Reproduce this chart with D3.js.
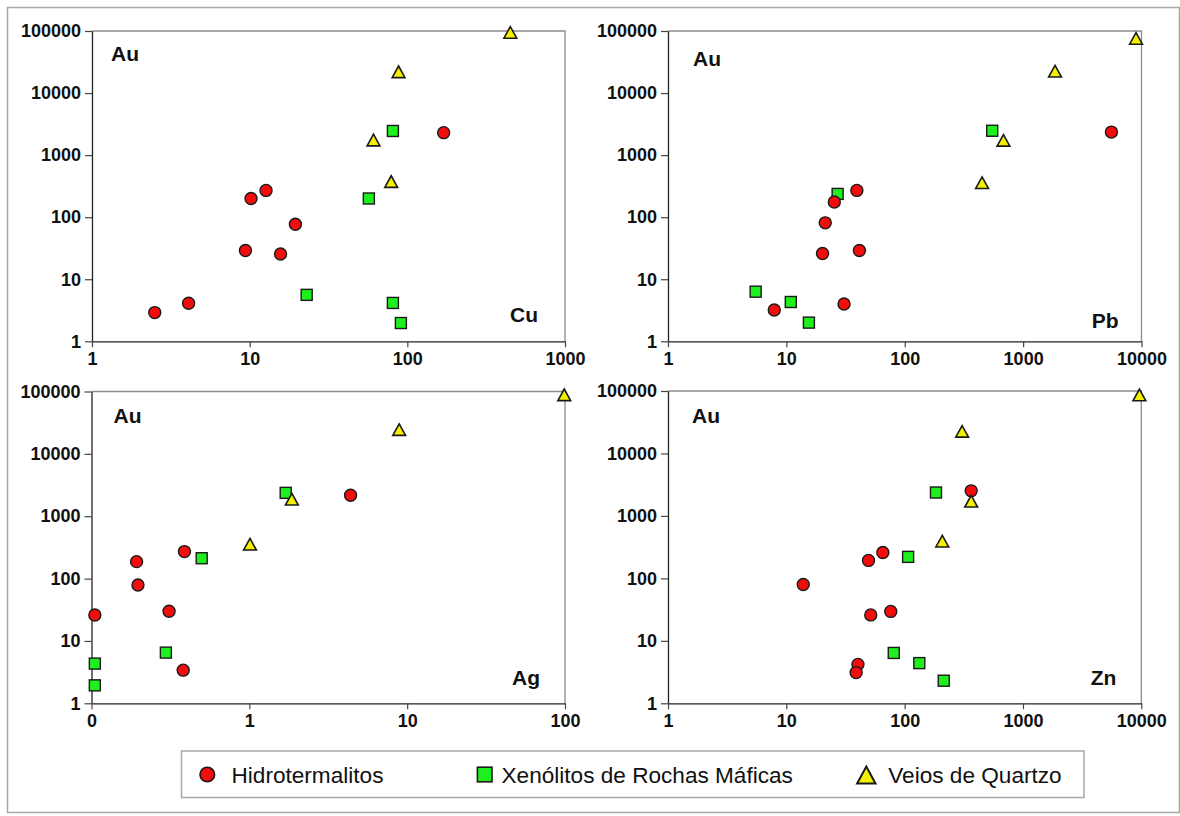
<!DOCTYPE html>
<html>
<head>
<meta charset="utf-8">
<script src="https://cdn.jsdelivr.net/npm/d3@7"></script>
<style>
  html, body { margin: 0; padding: 0; background: #fff; }
  svg { display: block; }
  text { font-family: Arial, "Liberation Sans", Helvetica, sans-serif; }
</style>
</head>
<body>
<svg id="chart" width="1180" height="816"></svg>
<script>
// ---- Data: Au (ppb) against Cu, Pb, Ag and Zn for each rock group ----
const groups = ["Hidrotermalitos", "Xenólitos de Rochas Máficas", "Veios de Quartzo"];

const auTicks = [1, 10, 100, 1000, 10000, 100000];
const auTickLabels = ["1", "10", "100", "1000", "10000", "100000"];

const cuTicks = [1, 10, 100, 1000];
const cuTickLabels = ["1", "10", "100", "1000"];
const pbTicks = [1, 10, 100, 1000, 10000];
const pbTickLabels = ["1", "10", "100", "1000", "10000"];
const agTicks = [0.1, 1, 10, 100];
const agTickLabels = ["0", "1", "10", "100"];
const znTicks = [1, 10, 100, 1000, 10000];
const znTickLabels = ["1", "10", "100", "1000", "10000"];

// [element, Au]
const cuHidro = [[2.5, 2.9], [4.1, 4.1], [9.4, 29], [10.2, 200], [12.7, 270], [19.5, 77], [15.7, 25.5], [170, 2300]];
const cuXeno  = [[23, 5.6], [57, 200], [81, 2450], [81, 4.15], [91, 1.97]];
const cuVeios = [[450, 95000], [88, 22000], [61, 1750], [79, 375]];

const pbHidro = [[7.9, 3.2], [30.7, 4.0], [41.4, 29], [20.2, 26], [21.3, 81], [25.4, 176], [39.4, 270], [5570, 2350]];
const pbXeno  = [[5.5, 6.3], [10.9, 4.3], [15.5, 2.0], [27.1, 237], [548, 2470]];
const pbVeios = [[8990, 76000], [1860, 22500], [682, 1730], [450, 360]];

const agHidro = [[0.105, 26], [0.193, 187], [0.197, 79], [0.388, 271], [0.31, 30], [0.381, 3.4], [4.38, 2170]];
const agXeno  = [[0.105, 4.33], [0.105, 1.94], [0.296, 6.5], [0.499, 212], [1.70, 2370]];
const agVeios = [[98.9, 88500], [8.9, 24500], [1.86, 1875], [1.01, 355]];

const znHidro = [[13.9, 80], [49.5, 194], [65.4, 260], [51.7, 26], [76.3, 29.6], [40.3, 4.2], [38.9, 3.1], [365, 2520]];
const znXeno  = [[80.9, 6.4], [133, 4.4], [214, 2.3], [107, 221], [184, 2370]];
const znVeios = [[9640, 86300], [306, 22600], [365, 1720], [208, 394]];

// ---- Layout ----
const panels = [
  { el: "Cu", domain: [1, 1000],  ticks: cuTicks, labels: cuTickLabels, hidro: cuHidro, xeno: cuXeno, veios: cuVeios,
    left: 92, right: 565, top: 31, bottom: 341.3, auDx: 19, auDy: 30, elDx: 27, elDy: 19 },
  { el: "Pb", domain: [1, 10000], ticks: pbTicks, labels: pbTickLabels, hidro: pbHidro, xeno: pbXeno, veios: pbVeios,
    left: 668, right: 1141.5, top: 31, bottom: 341.3, auDx: 25, auDy: 35, elDx: 23, elDy: 13 },
  { el: "Ag", domain: [0.1, 100], ticks: agTicks, labels: agTickLabels, hidro: agHidro, xeno: agXeno, veios: agVeios,
    left: 91.5, right: 565, top: 391.5, bottom: 703.3, auDx: 22, auDy: 31.5, elDx: 25, elDy: 18.6 },
  { el: "Zn", domain: [1, 10000], ticks: znTicks, labels: znTickLabels, hidro: znHidro, xeno: znXeno, veios: znVeios,
    left: 668, right: 1141.3, top: 391, bottom: 703.3, auDx: 24, auDy: 32, elDx: 25, elDy: 18 }
];

const RED = "#f20c0c", GREEN = "#1ef01e", YELLOW = "#f4f000";
const MARK_STROKE = "#1a1a1a";

const svg = d3.select("#chart");

// outer frame
svg.append("rect")
  .attr("x", 7.5).attr("y", 7.5).attr("width", 1172).attr("height", 805)
  .attr("fill", "#fff").attr("stroke", "#a8a8a8").attr("stroke-width", 1.5);

function trianglePath(hw, hh) {
  return `M0,${-hh}L${hw},${hh}L${-hw},${hh}Z`;
}

panels.forEach(p => {
  const x = d3.scaleLog().domain(p.domain).range([p.left, p.right]);
  const y = d3.scaleLog().domain([1, 100000]).range([p.bottom, p.top]);
  const g = svg.append("g");

  // top and right frame lines
  g.append("path")
    .attr("d", `M${p.left},${p.top}H${p.right}V${p.bottom}`)
    .attr("fill", "none").attr("stroke", "#8c8c8c").attr("stroke-width", 1.3);

  const yAxis = d3.axisLeft(y).tickValues(auTicks)
    .tickFormat((d, i) => auTickLabels[i]).tickSize(7).tickSizeOuter(0).tickPadding(4);
  const xAxis = d3.axisBottom(x).tickValues(p.ticks)
    .tickFormat((d, i) => p.labels[i]).tickSize(6).tickSizeOuter(0).tickPadding(5);

  const ya = g.append("g").attr("transform", `translate(${p.left},0)`).call(yAxis);
  const xa = g.append("g").attr("transform", `translate(0,${p.bottom})`).call(xAxis);
  [ya, xa].forEach(a => {
    a.select(".domain").attr("stroke", "#222").attr("stroke-width", 1.3);
    a.selectAll(".tick line").attr("stroke", "#444").attr("stroke-width", 1.2);
    a.selectAll(".tick text")
      .attr("fill", "#111").attr("font-size", 18).attr("font-weight", "bold")
      .attr("font-family", "Arial, 'Liberation Sans', sans-serif");
  });

  // axis names inside the plot
  g.append("text").text("Au")
    .attr("x", p.left + p.auDx).attr("y", p.top + p.auDy)
    .attr("font-size", 21).attr("font-weight", "bold").attr("fill", "#111");
  g.append("text").text(p.el)
    .attr("x", p.right - p.elDx).attr("y", p.bottom - p.elDy)
    .attr("text-anchor", "end")
    .attr("font-size", 21).attr("font-weight", "bold").attr("fill", "#111");

  // markers: squares, then circles, then triangles
  g.append("g").selectAll("rect").data(p.xeno).join("rect")
    .attr("x", d => x(d[0]) - 5.5).attr("y", d => y(d[1]) - 5.5)
    .attr("width", 11).attr("height", 11)
    .attr("fill", GREEN).attr("stroke", MARK_STROKE).attr("stroke-width", 1.4);

  g.append("g").selectAll("circle").data(p.hidro).join("circle")
    .attr("cx", d => x(d[0])).attr("cy", d => y(d[1])).attr("r", 6)
    .attr("fill", RED).attr("stroke", MARK_STROKE).attr("stroke-width", 1.4);

  g.append("g").selectAll("path").data(p.veios).join("path")
    .attr("d", trianglePath(6.4, 5.8))
    .attr("transform", d => `translate(${x(d[0])},${y(d[1])})`)
    .attr("fill", YELLOW).attr("stroke", MARK_STROKE).attr("stroke-width", 1.6)
    .attr("stroke-linejoin", "miter");
});

// ---- Legend ----
const lg = svg.append("g");
lg.append("rect")
  .attr("x", 181.5).attr("y", 751).attr("width", 902.5).attr("height", 46.5)
  .attr("fill", "#fff").attr("stroke", "#a8a8a8").attr("stroke-width", 1.5);

const legendItems = [
  { x: 207.3, tx: 231.5 },
  { x: 484.7, tx: 501.5 },
  { x: 866.3, tx: 888.3 }
];
const ly = 774.5;
lg.append("circle").attr("cx", legendItems[0].x).attr("cy", ly).attr("r", 7.3)
  .attr("fill", RED).attr("stroke", MARK_STROKE).attr("stroke-width", 1.6);
lg.append("rect").attr("x", legendItems[1].x - 7.3).attr("y", ly - 7.3)
  .attr("width", 14.6).attr("height", 14.6)
  .attr("fill", GREEN).attr("stroke", MARK_STROKE).attr("stroke-width", 1.6);
lg.append("path").attr("d", trianglePath(9.2, 8.4))
  .attr("transform", `translate(${legendItems[2].x},${ly + 0.5})`)
  .attr("fill", YELLOW).attr("stroke", MARK_STROKE).attr("stroke-width", 2);

groups.forEach((name, i) => {
  lg.append("text").text(name)
    .attr("x", legendItems[i].tx).attr("y", 783)
    .attr("font-size", 22.6).attr("fill", "#111");
});
</script>
</body>
</html>
